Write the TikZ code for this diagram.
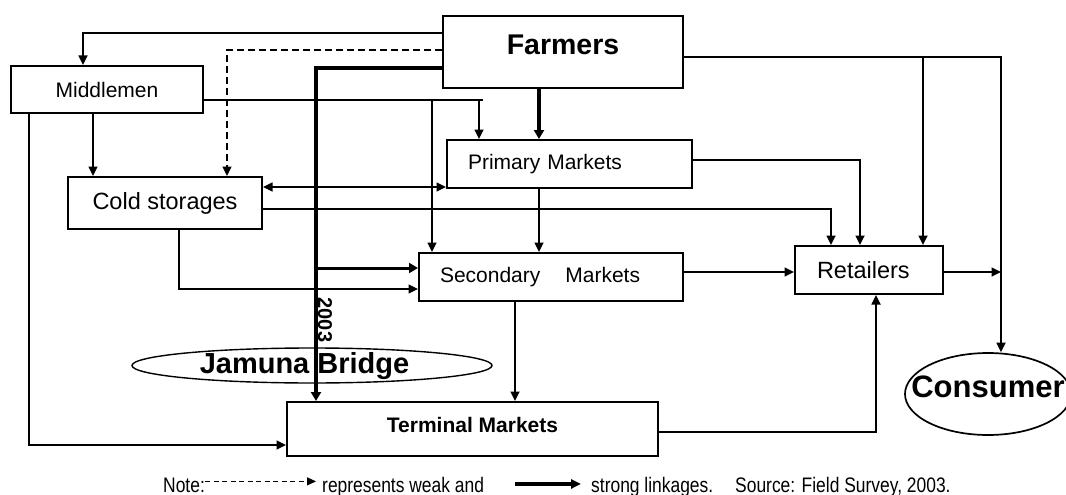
\documentclass[tikz,border=0pt]{standalone}
\usepackage{fontspec}
\setmainfont{Liberation Sans}
\newfontfamily\narrowfont[FakeStretch=0.83]{Liberation Sans}
\usetikzlibrary{arrows.meta,shapes.geometric,calc}
\begin{document}
\begin{tikzpicture}[x=1pt,y=-1pt,
  box/.style={draw,line width=2pt,rectangle,inner sep=0pt},
  fs/.style={font=\fontsize{#1}{#1}\selectfont},
  fsb/.style={font=\bfseries\fontsize{#1}{#1}\selectfont},
  thinln/.style={line width=1.7pt},
  arr/.style={thinln,-{Triangle[length=9.5pt,width=9pt]}},
  darr/.style={thinln,{Triangle[length=9.5pt,width=9pt]}-{Triangle[length=9.5pt,width=9pt]}},
  thickarr/.style={line width=3.5pt,-{Triangle[length=9pt,width=10pt]}},
  weakarr/.style={arr,dash pattern=on 7pt off 4pt},
  legtext/.style={font=\narrowfont\fontsize{21}{21}\selectfont,inner sep=0pt,anchor=base west},
  legweak/.style={line width=1.1pt,dash pattern=on 5pt off 3.5pt,-{Triangle[length=9pt,width=8pt]}},
  legstrong/.style={line width=3.2pt,-{Triangle[length=10pt,width=9pt]}},
  ell/.style={draw,ellipse,inner sep=0pt}
]
\useasboundingbox (0,0) rectangle (1066,495);

% boxes
\node[box, minimum width=240pt, minimum height=72pt, fsb=28.5, text depth=14pt] (farmers) at (563,52) {Farmers};
\node[box, minimum width=192pt, minimum height=47pt, fs=21] (middlemen) at (107,89.5) {Middlemen};
\node[box, minimum width=194pt, minimum height=52pt, fs=23.5] (cold) at (165,203) {Cold storages};
\node[box, minimum width=245pt, minimum height=48pt, fs=21, text width=203pt, align=left, inner xsep=21pt] (primary) at (569.5,164) {Primary Markets};
\node[box, minimum width=264pt, minimum height=48pt, fs=21, text width=222pt, align=left, inner xsep=21pt] (secondary) at (551,277) {Secondary\hspace{18pt} Markets};
\node[box, minimum width=148pt, minimum height=48pt, fs=23.5, text width=104pt, align=left, inner xsep=22pt] (retailers) at (869,270) {Retailers};
\node[box, minimum width=371pt, minimum height=54pt, fsb=21, text depth=8pt] (terminal) at (472.5,429) {Terminal Markets};

% ellipses
\node[ell, line width=1.4pt, minimum width=360pt, minimum height=35pt] (jamuna) at (312,365.5) {};
\node[fsb=29] (jamunaT) at (304.5,366) {Jamuna Bridge};
\node[ell, line width=1.7pt, minimum width=166pt, minimum height=82pt] (consumer) at (988,394) {};
\node[fsb=31] (consumerT) at (988,386.5) {Consumer};

% year label
\node[fsb=20, rotate=-90] (yr) at (325,320) {2003};

% Farmers -> Middlemen
\coordinate (fW1) at ([yshift=-18pt]farmers.north west);
\draw[arr] (fW1) -| ([xshift=-24pt]middlemen.north);
% Farmers -> Cold storages (weak)
\draw[weakarr] ([yshift=-35pt]farmers.north west) -| ([xshift=62pt]cold.north);
% Farmers -> Terminal (strong)
\coordinate (thickx) at ([xshift=-156.5pt]terminal.north);
\draw[thickarr] ([yshift=-53pt]farmers.north west) -| (thickx);
% Farmers -> Primary (strong)
\coordinate (fS) at ([xshift=-24pt]farmers.south);
\draw[thickarr] (fS) -- (fS |- primary.north);

% Middlemen -> Primary / Secondary
\coordinate (mE) at ([yshift=-10.5pt]middlemen.east);
\coordinate (pA) at ([xshift=-90.5pt]primary.north);
\coordinate (sA) at ([xshift=-119pt]secondary.north);
\coordinate (mEnd) at ([xshift=-86.5pt]primary.north);
\draw[thinln] (mE) -- (mE -| mEnd);
\draw[arr] (mE -| pA) -- (pA);
\draw[arr] (mE -| sA) -- (sA);
% Middlemen -> Cold storages
\coordinate (mS) at ([xshift=-14pt]middlemen.south);
\draw[arr] (mS) -- (mS |- cold.north);
% Middlemen -> Terminal
\draw[arr] ([xshift=19pt]middlemen.south west) |- ([yshift=-16pt]terminal.west);

% Cold storages <-> Primary
\coordinate (cE) at ([yshift=16pt]cold.east);
\draw[darr] (cE) -- (cE -| primary.west);
% Cold storages -> Retailers
\draw[arr] ([yshift=-6pt]cold.east) -| ([xshift=-38pt]retailers.north);
% Cold storages -> Secondary
\draw[arr] ([xshift=14pt]cold.south) |- ([yshift=-12pt]secondary.west);
% strong line -> Secondary
\coordinate (sW) at ([yshift=9pt]secondary.west);
\draw[thickarr, line width=3pt] (sW -| thickx) -- (sW);

% Primary -> Secondary
\coordinate (pS) at ([xshift=-30.5pt]primary.south);
\draw[arr] (pS) -- (pS |- secondary.north);
% Primary -> Retailers
\draw[arr] ([yshift=4pt]primary.east) -| ([xshift=-9pt]retailers.north);

% Farmers -> Consumer and Retailers
\coordinate (cv) at ([xshift=13pt]consumer.north);
\coordinate (fE) at ([yshift=-5pt]farmers.east);
\draw[arr] (fE) -| (cv);
\coordinate (rN) at ([xshift=54pt]retailers.north);
\draw[arr] (fE -| rN) -- (rN);

% Secondary -> Retailers
\coordinate (sE) at ([yshift=5pt]secondary.east);
\draw[arr] (sE) -- (sE -| retailers.west);
% Retailers -> Consumer line
\coordinate (rE) at ([yshift=-2pt]retailers.east);
\draw[arr] (rE) -- (rE -| cv);
% Secondary -> Terminal
\coordinate (sS) at ([xshift=-36pt]secondary.south);
\draw[arr] (sS) -- (sS |- terminal.north);
% Terminal -> Retailers
\draw[arr] ([yshift=-3pt]terminal.east) -| ([xshift=7pt]retailers.south);

% legend
\node[legtext] (note) at (163,492) {Note:};
\node[legtext] (weak) at (322,492) {represents weak and};
\node[legtext] (strong) at (591,492) {strong linkages.};
\node[legtext] (source) at (735,492) {Source: Field Survey, 2003.};
\coordinate (nE) at ([yshift=3.5pt]note.east);
\coordinate (wW) at ([xshift=-6pt]weak.west);
\draw[legweak] (nE) -- (nE -| wW);
\coordinate (sgB) at ([xshift=-10pt,yshift=2.6pt]strong.west);
\coordinate (sgA) at ([xshift=-76pt,yshift=2.6pt]strong.west);
\draw[legstrong] (sgA) -- (sgB);
\end{tikzpicture}
\end{document}
